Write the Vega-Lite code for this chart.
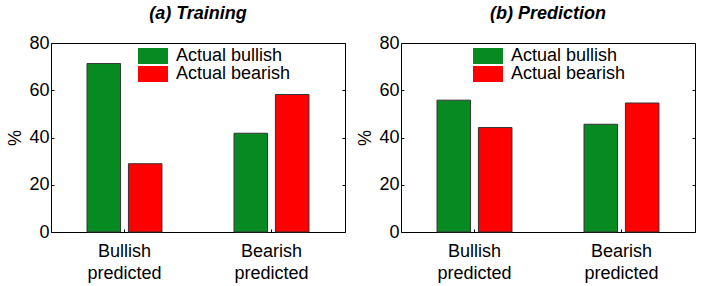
{
  "$schema": "https://vega.github.io/schema/vega-lite/v6.json",
  "padding": {"left": 6, "top": 4, "right": 0, "bottom": 0},
  "background": "white",
  "config": {
    "font": "Liberation Sans",
    "view": {"stroke": "black", "strokeWidth": 1},
    "axis": {
      "grid": false,
      "domain": false,
      "labelFont": "Liberation Sans",
      "labelFontSize": 18,
      "labelColor": "black",
      "tickColor": "black",
      "tickSize": -3,
      "titleFont": "Liberation Sans",
      "titleFontSize": 18,
      "titleFontWeight": "normal",
      "titleColor": "black"
    },
    "concat": {"spacing": 10},
    "title": {
      "font": "Liberation Sans",
      "fontSize": 18,
      "fontStyle": "italic",
      "fontWeight": "bold",
      "color": "black",
      "offset": 11
    }
  },
  "datasets": {
    "bars": [
      {"panel": "Training", "predicted": "Bullish predicted", "actual": "Actual bullish", "pct": 71.3},
      {"panel": "Training", "predicted": "Bullish predicted", "actual": "Actual bearish", "pct": 28.9},
      {"panel": "Training", "predicted": "Bearish predicted", "actual": "Actual bullish", "pct": 41.8},
      {"panel": "Training", "predicted": "Bearish predicted", "actual": "Actual bearish", "pct": 58.2},
      {"panel": "Prediction", "predicted": "Bullish predicted", "actual": "Actual bullish", "pct": 55.8},
      {"panel": "Prediction", "predicted": "Bullish predicted", "actual": "Actual bearish", "pct": 44.2},
      {"panel": "Prediction", "predicted": "Bearish predicted", "actual": "Actual bullish", "pct": 45.6},
      {"panel": "Prediction", "predicted": "Bearish predicted", "actual": "Actual bearish", "pct": 54.6}
    ]
  },
  "data": {"name": "bars"},
  "resolve": {"scale": {"color": "independent"}, "legend": {"color": "independent"}},
  "hconcat": [
    {
      "width": 294,
      "height": 189,
      "title": "(a) Training",
      "transform": [{"filter": "datum.panel == 'Training'"}],
      "layer": [
        {
          "mark": {"type": "bar", "stroke": "#333333", "strokeWidth": 1},
          "encoding": {
            "x": {"field": "predicted", "type": "nominal", "sort": ["Bullish predicted", "Bearish predicted"], "scale": {"paddingInner": 0, "paddingOuter": 0}, "axis": {"title": null, "labelAngle": 0, "labelExpr": "split(datum.label, ' ')", "labelLineHeight": 22, "labelPadding": 13}},
            "xOffset": {"field": "actual", "type": "nominal", "sort": ["Actual bullish", "Actual bearish"], "scale": {"paddingInner": 0.19, "paddingOuter": 0.87}},
            "y": {"field": "pct", "type": "quantitative", "scale": {"domain": [0, 80], "nice": false}, "axis": {"title": "%", "values": [0, 20, 40, 60, 80], "labelPadding": 5, "titlePadding": 4}},
            "color": {"field": "actual", "type": "nominal", "sort": ["Actual bullish", "Actual bearish"], "scale": {"domain": ["Actual bullish", "Actual bearish"], "range": ["#088A22", "#FF0000"]}, "legend": {"title": null, "orient": "none", "legendX": 93, "legendY": 4, "padding": 0, "symbolType": "M-1.875,-1H1.875V1H-1.875Z", "symbolSize": 256, "symbolStrokeWidth": 0, "symbolOpacity": 1, "labelFontSize": 18, "labelColor": "black", "labelOffset": 14, "rowPadding": 0}}
          }
        },
        {
          "mark": {"type": "bar", "opacity": 0},
          "encoding": {
            "x": {"field": "predicted", "type": "nominal", "sort": ["Bullish predicted", "Bearish predicted"], "scale": {"paddingInner": 0, "paddingOuter": 0}, "axis": {"title": null, "labelAngle": 0, "labelExpr": "split(datum.label, ' ')", "labelLineHeight": 22, "labelPadding": 13}},
            "xOffset": {"field": "actual", "type": "nominal", "sort": ["Actual bullish", "Actual bearish"]},
            "y": {"field": "pct", "type": "quantitative", "scale": {"domain": [0, 80], "nice": false}, "axis": {"orient": "right", "title": null, "labels": false, "values": [0, 20, 40, 60, 80]}}
          }
        }
      ],
      "resolve": {"axis": {"y": "independent"}}
    },
    {
      "width": 294,
      "height": 189,
      "title": "(b) Prediction",
      "transform": [{"filter": "datum.panel == 'Prediction'"}],
      "layer": [
        {
          "mark": {"type": "bar", "stroke": "#333333", "strokeWidth": 1},
          "encoding": {
            "x": {"field": "predicted", "type": "nominal", "sort": ["Bullish predicted", "Bearish predicted"], "scale": {"paddingInner": 0, "paddingOuter": 0}, "axis": {"title": null, "labelAngle": 0, "labelExpr": "split(datum.label, ' ')", "labelLineHeight": 22, "labelPadding": 13}},
            "xOffset": {"field": "actual", "type": "nominal", "sort": ["Actual bullish", "Actual bearish"], "scale": {"paddingInner": 0.19, "paddingOuter": 0.87}},
            "y": {"field": "pct", "type": "quantitative", "scale": {"domain": [0, 80], "nice": false}, "axis": {"title": "%", "values": [0, 20, 40, 60, 80], "labelPadding": 5, "titlePadding": 4}},
            "color": {"field": "actual", "type": "nominal", "sort": ["Actual bullish", "Actual bearish"], "scale": {"domain": ["Actual bullish", "Actual bearish"], "range": ["#088A22", "#FF0000"]}, "legend": {"title": null, "orient": "none", "legendX": 78, "legendY": 4, "padding": 0, "symbolType": "M-1.875,-1H1.875V1H-1.875Z", "symbolSize": 256, "symbolStrokeWidth": 0, "symbolOpacity": 1, "labelFontSize": 18, "labelColor": "black", "labelOffset": 14, "rowPadding": 0}}
          }
        },
        {
          "mark": {"type": "bar", "opacity": 0},
          "encoding": {
            "x": {"field": "predicted", "type": "nominal", "sort": ["Bullish predicted", "Bearish predicted"], "scale": {"paddingInner": 0, "paddingOuter": 0}, "axis": {"title": null, "labelAngle": 0, "labelExpr": "split(datum.label, ' ')", "labelLineHeight": 22, "labelPadding": 13}},
            "xOffset": {"field": "actual", "type": "nominal", "sort": ["Actual bullish", "Actual bearish"]},
            "y": {"field": "pct", "type": "quantitative", "scale": {"domain": [0, 80], "nice": false}, "axis": {"orient": "right", "title": null, "labels": false, "values": [0, 20, 40, 60, 80]}}
          }
        }
      ],
      "resolve": {"axis": {"y": "independent"}}
    }
  ]
}
